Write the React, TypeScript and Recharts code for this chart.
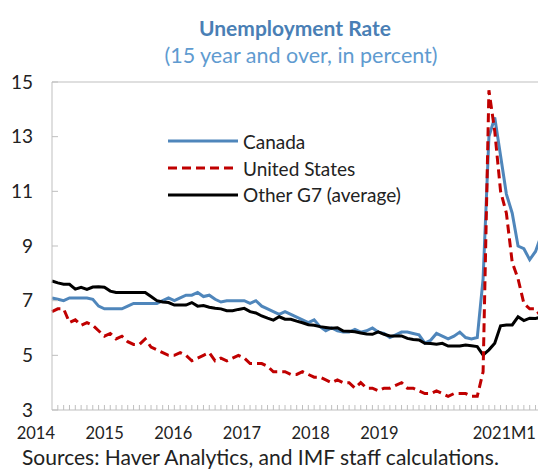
import React from "react";
import { Legend, Line, LineChart, ReferenceLine, XAxis, YAxis } from "recharts";

// monthly, 2014M1 .. 2021M1
const canada = [
  7.1, 7.05, 7.0, 7.1, 7.1, 7.1, 7.1, 7.05, 6.8, 6.7, 6.7, 6.7,
  6.7, 6.8, 6.9, 6.9, 6.9, 6.9, 6.9, 7.0, 7.1, 7.0, 7.1, 7.2,
  7.2, 7.3, 7.15, 7.2, 7.05, 6.95, 7.0, 7.0, 7.0, 7.0, 6.9, 7.0,
  6.8, 6.7, 6.6, 6.5, 6.6, 6.5, 6.4, 6.3, 6.2, 6.3, 6.05, 5.9,
  6.0, 5.9, 5.85, 5.85, 5.95, 5.85, 5.9, 6.0, 5.85, 5.8, 5.65, 5.75,
  5.85, 5.85, 5.8, 5.75, 5.45, 5.55, 5.8, 5.7, 5.6, 5.7, 5.85, 5.65,
  5.6, 5.65, 7.8, 13.0, 13.7, 12.3, 10.9, 10.2, 9.0, 8.9, 8.5, 8.8,
  9.4,
];

const unitedStates = [
  6.6, 6.7, 6.7, 6.2, 6.3, 6.1, 6.2, 6.1, 5.9, 5.7, 5.8, 5.6,
  5.7, 5.5, 5.4, 5.4, 5.6, 5.3, 5.2, 5.1, 5.0, 5.0, 5.1, 5.0,
  4.8, 4.9, 5.0, 5.1, 4.8, 4.9, 4.8, 4.9, 5.0, 4.9, 4.7, 4.7,
  4.7, 4.6, 4.4, 4.4, 4.4, 4.3, 4.3, 4.4, 4.3, 4.2, 4.2, 4.1,
  4.0, 4.1, 4.0, 4.0, 3.8, 4.0, 3.8, 3.8, 3.7, 3.8, 3.8, 3.9,
  4.0, 3.8, 3.8, 3.7, 3.6, 3.6, 3.7, 3.6, 3.5, 3.6, 3.6, 3.6,
  3.5, 3.5, 4.4, 14.7, 13.2, 11.0, 10.2, 8.4, 7.8, 6.9, 6.7, 6.7,
  6.4,
];

const otherG7 = [
  7.72, 7.65, 7.6, 7.6, 7.42, 7.49, 7.41, 7.5, 7.51, 7.49, 7.35, 7.3,
  7.3, 7.3, 7.3, 7.3, 7.3, 7.15, 7.0, 6.95, 6.93, 6.84, 6.84, 6.84,
  6.93, 6.8, 6.82, 6.76, 6.72, 6.7, 6.63, 6.63, 6.68, 6.72, 6.6, 6.55,
  6.44, 6.36, 6.29, 6.41, 6.32, 6.32, 6.25, 6.19, 6.12, 6.1, 6.05, 6.02,
  5.99, 6.01, 5.89, 5.88, 5.86, 5.82, 5.78, 5.77, 5.86, 5.77, 5.71, 5.71,
  5.71, 5.62, 5.58, 5.56, 5.44, 5.43, 5.41, 5.44, 5.34, 5.34, 5.34, 5.38,
  5.35, 5.32, 5.01, 5.2, 5.44, 6.08, 6.11, 6.11, 6.41, 6.27, 6.36, 6.35,
  6.4,
];

const yearLabels = ["2014", "2015", "2016", "2017", "2018", "2019", "", "2021M1"];
const yTicks = [3, 5, 7, 9, 11, 13, 15];

const seriesNames = ["Canada", "United States", "Other G7 (average)"];

const FONT = "Lato, 'Open Sans', sans-serif";
const AXIS_GRAY = "#bfbfbf";
const BLUE = "#4f86bb";
const RED = "#c00000";

const rows = canada.map((v, i) => ({
  i,
  canada: v,
  us: unitedStates[i],
  g7: otherG7[i],
}));

const xTicks = Array.from({ length: 87 }, (_, i) => i);

function YTick(props: any) {
  const { x, y, payload } = props;
  return (
    <g>
      <line x1={x} x2={x + 6} y1={y} y2={y} stroke={AXIS_GRAY} strokeWidth={1} />
      <text
        x={x - 19}
        y={y}
        dy={6.5}
        textAnchor="end"
        fontSize={19}
        fontFamily={FONT}
        fill="#222"
      >
        {payload.value}
      </text>
    </g>
  );
}

function XTick(props: any) {
  const { x, y, payload } = props;
  const i = payload.value as number;
  const k = i / 12;
  const label = i % 12 === 0 ? yearLabels[k] : undefined;
  return (
    <g>
      {i > 0 && <line x1={x} x2={x} y1={y - 5} y2={y} stroke={AXIS_GRAY} strokeWidth={1} />}
      {label ? (
        <text
          x={x + 3 - k * 1.2}
          y={y}
          dy={29}
          textAnchor="end"
          fontSize={16.5}
          fontFamily={FONT}
          fill="#222"
        >
          {label}
        </text>
      ) : null}
    </g>
  );
}

function LegendBox() {
  const styles = [
    { color: BLUE, dash: undefined },
    { color: RED, dash: "9 5" },
    { color: "#000", dash: undefined },
  ];
  return (
    <div style={{ fontFamily: FONT, fontSize: 19, color: "#222" }}>
      {seriesNames.map((name, idx) => (
        <div key={name} style={{ display: "flex", alignItems: "center", height: 26.7 }}>
          <svg width={70} height={10} style={{ marginRight: 5 }}>
            <line
              x1={0}
              x2={70}
              y1={5}
              y2={5}
              stroke={styles[idx].color}
              strokeWidth={3}
              strokeDasharray={styles[idx].dash}
            />
          </svg>
          <span>{name}</span>
        </div>
      ))}
    </div>
  );
}

export default function App() {
  return (
    <div
      style={{
        position: "fixed",
        left: 0,
        top: 0,
        width: 538,
        height: 470,
        overflow: "hidden",
        background: "#fff",
      }}
    >
      <div
        style={{
          position: "absolute",
          left: 0,
          width: 590,
          top: 15,
          textAlign: "center",
          fontFamily: FONT,
          fontWeight: 700,
          fontSize: 21,
          lineHeight: "26px",
          color: "#4a7fb5",
        }}
      >
        Unemployment Rate
      </div>
      <div
        style={{
          position: "absolute",
          left: 0,
          width: 602,
          top: 42,
          textAlign: "center",
          fontFamily: FONT,
          fontSize: 21.5,
          lineHeight: "26px",
          color: "#5f9bd0",
        }}
      >
        (15 year and over, in percent)
      </div>
      <LineChart
        width={560}
        height={470}
        data={rows}
        margin={{ top: 82, right: 7, left: 0, bottom: 0 }}
      >
        <XAxis
          dataKey="i"
          type="number"
          domain={[0, 86]}
          ticks={xTicks}
          interval={0}
          tick={<XTick />}
          tickLine={false}
          tickSize={0}
          tickMargin={0}
          axisLine={{ stroke: AXIS_GRAY }}
          height={60}
        />
        <YAxis
          type="number"
          domain={[3, 15]}
          ticks={yTicks}
          interval={0}
          tick={<YTick />}
          tickLine={false}
          tickSize={0}
          tickMargin={0}
          axisLine={{ stroke: AXIS_GRAY }}
          width={52}
        />
        <ReferenceLine y={15} stroke={AXIS_GRAY} strokeWidth={1} />
        <Legend
          layout="vertical"
          align="center"
          verticalAlign="middle"
          content={<LegendBox />}
          wrapperStyle={{ left: 168, top: 128, width: 280 }}
        />
        <Line
          dataKey="canada"
          name="Canada"
          stroke={BLUE}
          strokeWidth={3}
          dot={false}
          isAnimationActive={false}
        />
        <Line
          dataKey="g7"
          name="Other G7 (average)"
          stroke="#000"
          strokeWidth={3}
          dot={false}
          isAnimationActive={false}
        />
        <Line
          dataKey="us"
          name="United States"
          stroke={RED}
          strokeWidth={3}
          strokeDasharray="9 5"
          dot={false}
          isAnimationActive={false}
        />
      </LineChart>
      <div
        style={{
          position: "absolute",
          left: 22,
          top: 444,
          fontFamily: FONT,
          fontSize: 21,
          lineHeight: "26px",
          color: "#222",
          whiteSpace: "nowrap",
        }}
      >
        Sources: Haver Analytics, and IMF staff calculations.
      </div>
    </div>
  );
}
